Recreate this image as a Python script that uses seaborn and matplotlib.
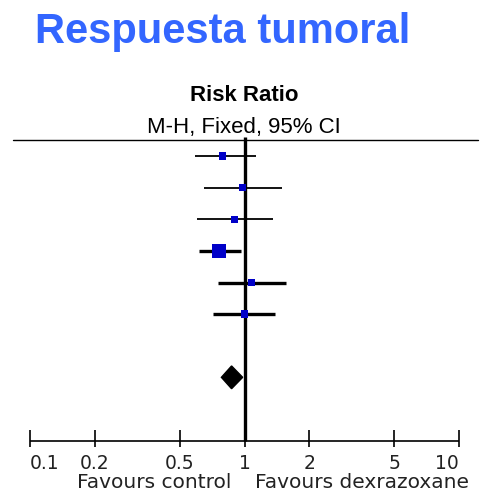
import seaborn as sns
import matplotlib.pyplot as plt
import matplotlib.transforms as mtransforms
import numpy as np
import pandas as pd

# studies (rows) of the forest plot
risk_ratio = [0.79, 0.98, 0.90, 0.76, 1.08, 1.00]
ci_low = [0.59, 0.65, 0.60, 0.61, 0.75, 0.71]
ci_high = [1.13, 1.50, 1.36, 0.96, 1.56, 1.39]
weight = [5, 4, 5, 20, 5, 5]
thick_ci = [False, False, False, True, True, True]

# pooled estimate (diamond)
pooled_rr = 0.87
pooled_low = 0.78
pooled_high = 0.98

tick_values = [0.1, 0.2, 0.5, 1, 2, 5, 10]
tick_labels = ["0.1", "0.2", "0.5", "1", "2", "5", "10"]

title = "Respuesta tumoral"
header1 = "Risk Ratio"
header2 = "M-H, Fixed, 95% CI"
left_label = "Favours control"
right_label = "Favours dexrazoxane"

df = pd.DataFrame({"rr": risk_ratio, "lo": ci_low, "hi": ci_high,
                   "w": weight, "thick": thick_ci})
df["row"] = np.arange(len(df))
pooled_row = len(df) + 1
axis_row = 9

sns.set_style("white")
plt.rcParams["font.family"] = ["DejaVu Sans"]

fig = plt.figure(figsize=(4.82, 4.99), dpi=100)
ax = fig.add_axes([0, 0, 1, 1])
ax.set_xscale("log")
ax.set_xlim(0.0724, 12.8)
ax.set_ylim(10.85, -4.94)
ax.axis("off")

# header line and line of no effect
ax.axhline(-0.5, xmin=0.027, xmax=0.992, color="black", lw=1.0)
ax.vlines(1, -0.6, axis_row, color="black", lw=2.4)

# confidence intervals
for thick, sub in df.groupby("thick"):
    ax.hlines(sub["row"], sub["lo"], sub["hi"], color="black",
              lw=2.4 if thick else 1.3)

# study estimates
sns.scatterplot(data=df, x="rr", y="row", size="w", sizes=(22, 110),
                marker="s", color="#0000C8", linewidth=0, legend=False,
                ax=ax, zorder=3)

# pooled diamond
half_h = 0.36
ax.fill([pooled_low, pooled_rr, pooled_high, pooled_rr],
        [pooled_row, pooled_row - half_h, pooled_row, pooled_row + half_h],
        color="black", zorder=3)

# bottom axis
ax.hlines(axis_row, tick_values[0], tick_values[-1], color="black", lw=1.2)
ax.vlines(tick_values, axis_row - 0.32, axis_row + 0.19, color="black", lw=1.2)
for i, (v, lab) in enumerate(zip(tick_values, tick_labels)):
    ha = "left" if i == 0 else ("right" if i == len(tick_values) - 1 else "center")
    ax.text(v, 9.90, lab, ha=ha, va="baseline", fontsize=13.5,
            color="#222222")

trans = mtransforms.blended_transform_factory(ax.transAxes, ax.transData)
ax.text(0.481, 10.50, left_label, ha="right", va="baseline", fontsize=14.5,
        color="#222222", transform=trans)
ax.text(0.529, 10.50, right_label, ha="left", va="baseline", fontsize=14.5,
        color="#222222", transform=trans)

# headings
fig.text(0.073, 1 - 43 / 499, title, ha="left", va="baseline",
         fontsize=30, fontweight="bold", color="#3366FF",
         family=["Liberation Sans", "DejaVu Sans"])
fig.text(0.506, 1 - 101 / 499, header1, ha="center", va="baseline",
         fontsize=16, fontweight="bold", color="black",
         family=["Liberation Sans", "DejaVu Sans"])
fig.text(0.506, 1 - 133 / 499, header2, ha="center", va="baseline",
         fontsize=16, color="black",
         family=["Liberation Sans", "DejaVu Sans"])

fig.savefig("out.png", dpi=100)
